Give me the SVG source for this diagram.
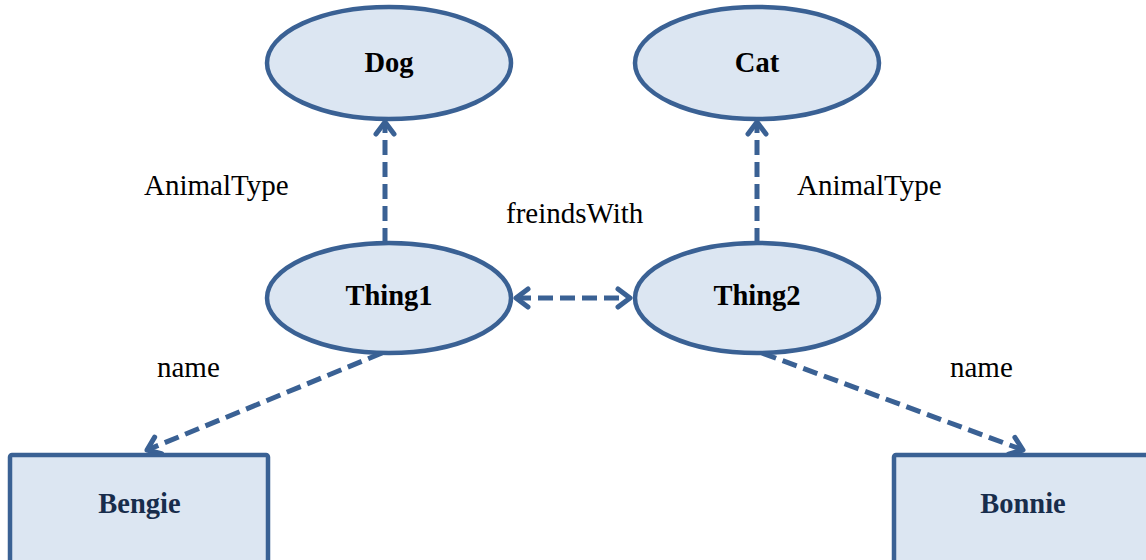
<svg xmlns="http://www.w3.org/2000/svg" width="1146" height="560" viewBox="0 0 1146 560">
  <style>
    .node { fill: #DCE6F2; stroke: #3A6194; stroke-width: 4.5; }
    .ntext { font-family: 'Liberation Serif', 'Times New Roman', serif; font-weight: bold; font-size: 28.5px; text-anchor: middle; fill: #000; }
    .btext { font-family: 'Liberation Serif', 'Times New Roman', serif; font-weight: bold; font-size: 28.5px; text-anchor: middle; fill: #182D4C; }
    .edge { fill: none; stroke: #3A6194; stroke-width: 5; stroke-dasharray: 15 7; }
    .lbl { font-family: 'Liberation Serif', 'Times New Roman', serif; font-size: 29px; fill: #000; }
  </style>
  <defs>
    <marker id="head" viewBox="0 0 12 12" refX="10" refY="6" markerWidth="12" markerHeight="12" markerUnits="userSpaceOnUse" orient="auto-start-reverse" overflow="visible">
      <path d="M -2 -3 L 10 6 L -2 15" fill="none" stroke="#3A6194" stroke-width="5" stroke-linecap="round" stroke-linejoin="round"/>
    </marker>
  </defs>

  <g id="connectors">
    <line class="edge" x1="385" y1="243" x2="385" y2="122" marker-end="url(#head)"/>
    <line class="edge" x1="757" y1="243" x2="757" y2="122" marker-end="url(#head)"/>
    <line class="edge" x1="516" y1="298" x2="630" y2="298" marker-start="url(#head)" marker-end="url(#head)"/>
    <line class="edge" x1="382" y1="353" x2="147" y2="450" marker-end="url(#head)"/>
    <line class="edge" x1="762" y1="353" x2="1023" y2="450" marker-end="url(#head)"/>
    <text class="lbl" x="144" y="195">AnimalType</text>
    <text class="lbl" x="797" y="195">AnimalType</text>
    <text class="lbl" x="506" y="223">freindsWith</text>
    <text class="lbl" x="157" y="377">name</text>
    <text class="lbl" x="950" y="377">name</text>
  </g>

  <g id="dog">
    <ellipse class="node" cx="389" cy="63" rx="122" ry="56"/>
    <text class="ntext" x="389" y="72">Dog</text>
  </g>
  <g id="cat">
    <ellipse class="node" cx="757" cy="63" rx="122" ry="56"/>
    <text class="ntext" x="757" y="72">Cat</text>
  </g>
  <g id="thing1">
    <ellipse class="node" cx="389" cy="298" rx="122" ry="55"/>
    <text class="ntext" x="389" y="305">Thing1</text>
  </g>
  <g id="thing2">
    <ellipse class="node" cx="757" cy="298" rx="122" ry="55"/>
    <text class="ntext" x="757" y="305">Thing2</text>
  </g>
  <g id="bengie">
    <rect class="node" x="10" y="455" width="258" height="120" rx="2"/>
    <text class="btext" x="139.5" y="513">Bengie</text>
  </g>
  <g id="bonnie">
    <rect class="node" x="894" y="455" width="270" height="120" rx="2"/>
    <text class="btext" x="1023" y="513">Bonnie</text>
  </g>
</svg>
